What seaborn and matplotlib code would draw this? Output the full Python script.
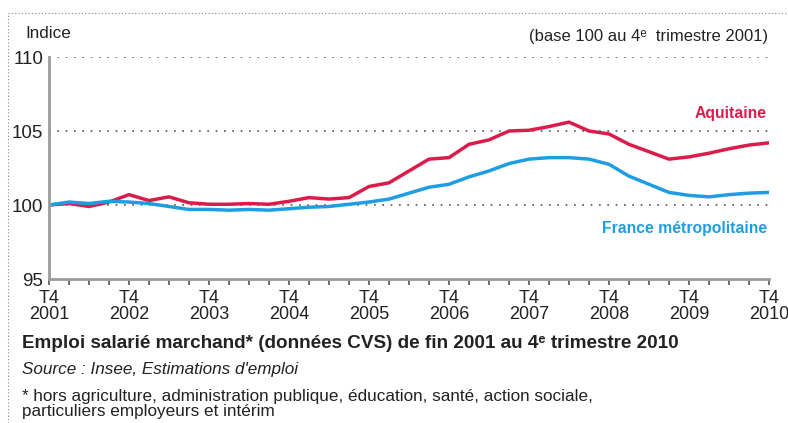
import pandas as pd
import numpy as np
import matplotlib
matplotlib.use("Agg")
import matplotlib.pyplot as plt
from matplotlib.lines import Line2D
import seaborn as sns

# quarterly index, base 100 at T4 2001 (T4 2001 .. T4 2010)
aquitaine = [100.0, 100.1, 99.9, 100.2, 100.7, 100.3, 100.55, 100.15, 100.05, 100.05,
             100.1, 100.05, 100.25, 100.5, 100.4, 100.5, 101.25, 101.5, 102.3, 103.1,
             103.2, 104.1, 104.4, 105.0, 105.05, 105.3, 105.6, 105.0, 104.8, 104.1,
             103.6, 103.1, 103.25, 103.5, 103.8, 104.05, 104.2]
france = [100.0, 100.2, 100.1, 100.25, 100.2, 100.1, 99.9, 99.7, 99.7, 99.65,
          99.7, 99.65, 99.75, 99.85, 99.9, 100.05, 100.2, 100.4, 100.8, 101.2,
          101.4, 101.9, 102.3, 102.8, 103.1, 103.2, 103.2, 103.1, 102.75, 101.95,
          101.4, 100.85, 100.65, 100.55, 100.7, 100.8, 100.85]
years = [str(y) for y in range(2001, 2011)]
yticks = [95, 100, 105, 110]

RED = "#da1c4a"
BLUE = "#1f9de2"
TXT = "#222222"

n = len(aquitaine)
df = pd.DataFrame({
    "q": list(range(n)) * 2,
    "indice": aquitaine + france,
    "zone": ["Aquitaine"] * n + ["France métropolitaine"] * n,
})

sns.set_style("white")
plt.rcParams["font.family"] = ["Liberation Sans", "DejaVu Sans"]

fig = plt.figure(figsize=(7.88, 4.23), dpi=100)
ax = fig.add_axes([49 / 788, 1 - 279 / 423, 720 / 788, 222 / 423])

# dotted gridlines
for v in yticks[1:]:
    ax.axhline(v, color="#555555", lw=1.2, ls=(0, (1, 4)), zorder=0)

sns.lineplot(data=df, x="q", y="indice", hue="zone",
             palette={"Aquitaine": RED, "France métropolitaine": BLUE},
             lw=2.5, legend=False, ax=ax)

ax.set_xlim(0, n - 1)
ax.set_ylim(95, 110)
ax.set_xticks(range(0, n, 4))
ax.set_xticklabels(["T4\n" + y for y in years], fontsize=13, color=TXT, linespacing=0.95)
ax.set_xticks(range(n), minor=True)
ax.set_yticks(yticks)
ax.set_yticklabels([str(v) for v in yticks], fontsize=13.5, color=TXT)
ax.set_xlabel("")
ax.set_ylabel("")

for s in ["top", "right"]:
    ax.spines[s].set_visible(False)
for s in ["left", "bottom"]:
    ax.spines[s].set_color("#9a9a9a")
    ax.spines[s].set_linewidth(2)
ax.tick_params(axis="x", which="both", direction="out", length=4, width=1.2,
               color="#555555", pad=4, bottom=True)
ax.tick_params(axis="y", length=0, pad=4)

ax.text(767 / 788, 1 - 113 / 423, "Aquitaine", transform=fig.transFigure,
        ha="right", va="center", color=RED, fontsize=11.3, fontweight="bold")
ax.text(767 / 788, 1 - 228 / 423, "France métropolitaine", transform=fig.transFigure,
        ha="right", va="center", color=BLUE, fontsize=11.3, fontweight="bold")

fig.text(25 / 788, 1 - 34 / 423, "Indice", ha="left", va="center", fontsize=12.3, color=TXT)
fig.text(768 / 788, 1 - 37 / 423, "(base 100 au 4ᵉ  trimestre 2001)",
         ha="right", va="center", fontsize=12, color=TXT)

fig.text(22 / 788, 1 - 344 / 423,
         "Emploi salarié marchand* (données CVS) de fin 2001 au 4ᵉ trimestre 2010",
         ha="left", va="center", fontsize=13.6, fontweight="bold", color=TXT)
fig.text(22 / 788, 1 - 369 / 423, "Source : Insee, Estimations d'emploi",
         ha="left", va="center", fontsize=12.3, style="italic", color=TXT)
fig.text(22 / 788, 1 - 396 / 423, "* hors agriculture, administration publique, éducation, santé, action sociale,",
         ha="left", va="center", fontsize=12.3, color=TXT)
fig.text(22 / 788, 1 - 411 / 423, "particuliers employeurs et intérim",
         ha="left", va="center", fontsize=12.3, color=TXT)

# dotted frame on the left and top
fig.add_artist(Line2D([8 / 788, 8 / 788], [0, 1 - 13 / 423], transform=fig.transFigure,
                      color="#888888", lw=0.8, ls=(0, (1, 2))))
fig.add_artist(Line2D([8 / 788, 1], [1 - 13 / 423, 1 - 13 / 423], transform=fig.transFigure,
                      color="#888888", lw=0.8, ls=(0, (1, 2))))

fig.savefig("out.png", dpi=100)
